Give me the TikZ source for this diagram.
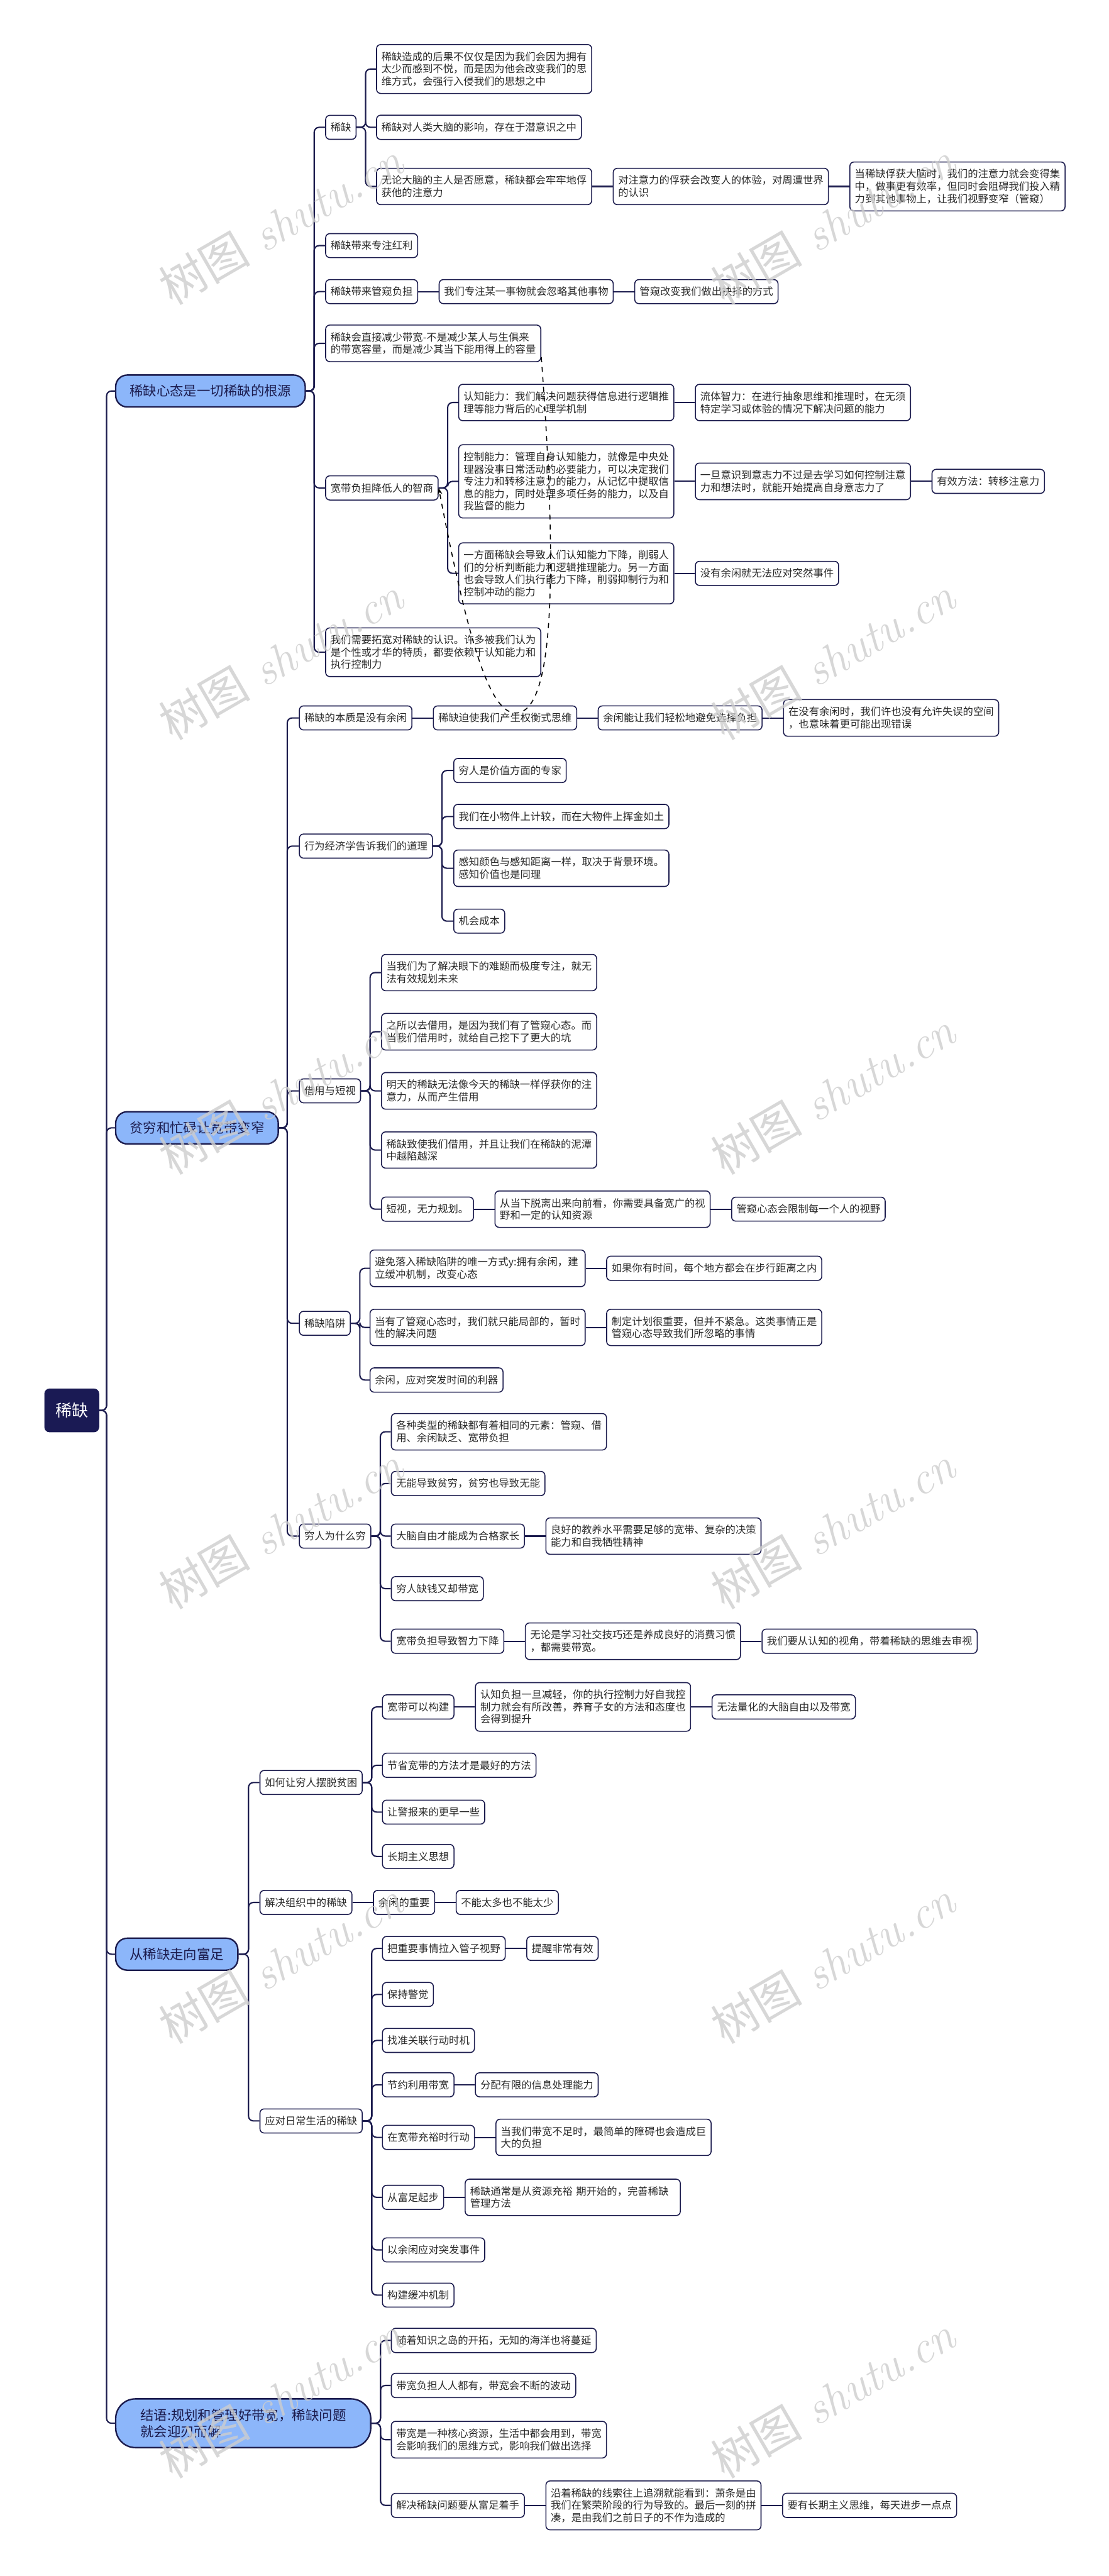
\documentclass[tikz,border=0pt]{standalone}
\usepackage{fontspec}
\newfontfamily\cjk{Noto Sans CJK SC}
\usetikzlibrary{arrows.meta,positioning}
\definecolor{linec}{RGB}{28,28,78}
\definecolor{rootc}{RGB}{26,26,84}
\definecolor{topicc}{RGB}{140,182,250}
\definecolor{textc}{RGB}{40,40,40}
\definecolor{wmarkc}{RGB}{205,205,205}

\begin{document}
\begin{tikzpicture}[x=1pt,y=-1pt,>=Stealth,
  rootbox/.style={anchor=west,draw=rootc,fill=rootc,text=white,rounded corners=3pt,
    font=\cjk\fontsize{10}{12}\selectfont,inner xsep=6.5pt,inner ysep=8.5pt},
  topic/.style={anchor=west,draw=linec,line width=0.9pt,fill=topicc,text=linec,
    rounded corners=7pt,font=\cjk\fontsize{8.2}{10.2}\selectfont,inner xsep=8.5pt,inner ysep=5.9pt},
  leaf/.style={anchor=west,draw=linec,line width=0.6pt,fill=white,text=textc,rounded corners=2.5pt,
    font=\cjk\fontsize{6.25}{7.5}\selectfont,inner xsep=3pt,inner ysep=4.4pt,align=left},
  wrap/.style={leaf,text width=125pt},
  link/.style={draw=linec,line width=0.8pt,rounded corners=3pt},
  wmark/.style={text=wmarkc,text opacity=0.8,rotate=30,font=\fontsize{28}{30}\selectfont}]
% 画布
\fill[white] (0,0) rectangle (675,1568);
\useasboundingbox (0,0) rectangle (675,1568);
% 根节点与一级主题
\node[rootbox] (R) at (27,858.5) {稀缺};
\node[topic] (A) at (70,238) {稀缺心态是一切稀缺的根源};
\node[topic] (B) at (70,686.5) {贫穷和忙碌让宽带变窄};
\node[topic] (C) at (70,1189.5) {从稀缺走向富足};
\node[topic,align=left,inner xsep=15pt,rounded corners=12pt] (D) at (70,1475)
  {结语:规划和管理好带宽，稀缺问题\\就会迎刃而解};
% 稀缺心态
\node[leaf] (A1) at (198,77.5) {稀缺};
\node[wrap] (A11) at (229,42) {稀缺造成的后果不仅仅是因为我们会因为拥有\\太少而感到不悦，而是因为他会改变我们的思\\维方式，会强行入侵我们的思想之中};
\node[leaf] (A12) at (229,77.5) {稀缺对人类大脑的影响，存在于潜意识之中};
\node[wrap] (A13) at (229,113.5) {无论大脑的主人是否愿意，稀缺都会牢牢地俘\\获他的注意力};
\node[wrap,right=12.5pt of A13] (A131) {对注意力的俘获会改变人的体验，对周遭世界\\的认识};
\node[wrap,right=12.5pt of A131] (A1311) {当稀缺俘获大脑时，我们的注意力就会变得集\\中，做事更有效率，但同时会阻碍我们投入精\\力到其他事物上，让我们视野变窄（管窥）};
\node[leaf] (A2) at (198,149.5) {稀缺带来专注红利};
\node[leaf] (A3) at (198,177.5) {稀缺带来管窥负担};
\node[leaf,right=12.5pt of A3] (A31) {我们专注某一事物就会忽略其他事物};
\node[leaf,right=12.5pt of A31] (A311) {管窥改变我们做出抉择的方式};
\node[wrap] (A4) at (198,209) {稀缺会直接减少带宽-不是减少某人与生俱来\\的带宽容量，而是减少其当下能用得上的容量};
\node[leaf] (A5) at (198,297) {宽带负担降低人的智商};
\node[wrap] (A51) at (279,245) {认知能力：我们解决问题获得信息进行逻辑推\\理等能力背后的心理学机制};
\node[wrap,right=12.5pt of A51] (A511) {流体智力：在进行抽象思维和推理时，在无须\\特定学习或体验的情况下解决问题的能力};
\node[wrap] (A52) at (279,293) {控制能力：管理自身认知能力，就像是中央处\\理器没事日常活动的必要能力，可以决定我们\\专注力和转移注意力的能力，从记忆中提取信\\息的能力，同时处理多项任务的能力，以及自\\我监督的能力};
\node[wrap,right=12.5pt of A52] (A521) {一旦意识到意志力不过是去学习如何控制注意\\力和想法时，就能开始提高自身意志力了};
\node[leaf,right=12.5pt of A521] (A5211) {有效方法：转移注意力};
\node[wrap] (A53) at (279,349) {一方面稀缺会导致人们认知能力下降，削弱人\\们的分析判断能力和逻辑推理能力。另一方面\\也会导致人们执行能力下降，削弱抑制行为和\\控制冲动的能力};
\node[leaf,right=12.5pt of A53] (A531) {没有余闲就无法应对突然事件};
\node[wrap] (A6) at (198,397) {我们需要拓宽对稀缺的认识。许多被我们认为\\是个性或才华的特质，都要依赖于认知能力和\\执行控制力};
% 贫穷和忙碌
\node[leaf] (B1) at (182,437) {稀缺的本质是没有余闲};
\node[leaf,right=12.5pt of B1] (B11) {稀缺迫使我们产生权衡式思维};
\node[leaf,right=12.5pt of B11] (B111) {余闲能让我们轻松地避免选择负担};
\node[wrap,right=12.5pt of B111] (B1111) {在没有余闲时，我们许也没有允许失误的空间\\，也意味着更可能出现错误};
\node[leaf] (B2) at (182,515) {行为经济学告诉我们的道理};
\node[leaf] (B21) at (276,469) {穷人是价值方面的专家};
\node[leaf] (B22) at (276,497) {我们在小物件上计较，而在大物件上挥金如土};
\node[wrap] (B23) at (276,528.5) {感知颜色与感知距离一样，取决于背景环境。\\感知价值也是同理};
\node[leaf] (B24) at (276,560.7) {机会成本};
\node[leaf] (B3) at (182,664) {借用与短视};
\node[wrap] (B31) at (232,592) {当我们为了解决眼下的难题而极度专注，就无\\法有效规划未来};
\node[wrap] (B32) at (232,628) {之所以去借用，是因为我们有了管窥心态。而\\当我们借用时，就给自己挖下了更大的坑};
\node[wrap] (B33) at (232,664) {明天的稀缺无法像今天的稀缺一样俘获你的注\\意力，从而产生借用};
\node[wrap] (B34) at (232,700) {稀缺致使我们借用，并且让我们在稀缺的泥潭\\中越陷越深};
\node[leaf] (B35) at (232,736) {短视，无力规划。};
\node[wrap,right=12.5pt of B35] (B351) {从当下脱离出来向前看，你需要具备宽广的视\\野和一定的认知资源};
\node[leaf,right=12.5pt of B351] (B3511) {管窥心态会限制每一个人的视野};
\node[leaf] (B4) at (182,805.5) {稀缺陷阱};
\node[wrap] (B41) at (225,772) {避免落入稀缺陷阱的唯一方式y:拥有余闲，建\\立缓冲机制，改变心态};
\node[leaf,right=12.5pt of B41] (B411) {如果你有时间，每个地方都会在步行距离之内};
\node[wrap] (B42) at (225,808) {当有了管窥心态时，我们就只能局部的，暂时\\性的解决问题};
\node[wrap,right=12.5pt of B42] (B421) {制定计划很重要，但并不紧急。这类事情正是\\管窥心态导致我们所忽略的事情};
\node[leaf] (B43) at (225,840) {余闲，应对突发时间的利器};
\node[leaf] (B5) at (182,935) {穷人为什么穷};
\node[wrap] (B51) at (238,871.5) {各种类型的稀缺都有着相同的元素：管窥、借\\用、余闲缺乏、宽带负担};
\node[leaf] (B52) at (238,903) {无能导致贫穷，贫穷也导致无能};
\node[leaf] (B53) at (238,935) {大脑自由才能成为合格家长};
\node[wrap,right=12.5pt of B53] (B531) {良好的教养水平需要足够的宽带、复杂的决策\\能力和自我牺牲精神};
\node[leaf] (B54) at (238,967) {穷人缺钱又却带宽};
\node[leaf] (B55) at (238,999) {宽带负担导致智力下降};
\node[wrap,right=12.5pt of B55] (B551) {无论是学习社交技巧还是养成良好的消费习惯\\，都需要带宽。};
\node[leaf,right=12.5pt of B551] (B5511) {我们要从认知的视角，带着稀缺的思维去审视};
% 从稀缺走向富足
\node[leaf] (C1) at (158,1085) {如何让穷人摆脱贫困};
\node[leaf] (C11) at (232.6,1039) {宽带可以构建};
\node[wrap,right=12.5pt of C11] (C111) {认知负担一旦减轻，你的执行控制力好自我控\\制力就会有所改善，养育子女的方法和态度也\\会得到提升};
\node[leaf,right=12.5pt of C111] (C1111) {无法量化的大脑自由以及带宽};
\node[leaf] (C12) at (232.6,1074.5) {节省宽带的方法才是最好的方法};
\node[leaf] (C13) at (232.6,1103) {让警报来的更早一些};
\node[leaf] (C14) at (232.6,1130) {长期主义思想};
\node[leaf] (C2) at (158,1158) {解决组织中的稀缺};
\node[leaf,right=12.5pt of C2] (C21) {余闲的重要};
\node[leaf,right=12.5pt of C21] (C211) {不能太多也不能太少};
\node[leaf] (C3) at (158,1291) {应对日常生活的稀缺};
\node[leaf] (C31) at (232.6,1186) {把重要事情拉入管子视野};
\node[leaf,right=12.5pt of C31] (C311) {提醒非常有效};
\node[leaf] (C32) at (232.6,1214) {保持警觉};
\node[leaf] (C33) at (232.6,1242) {找准关联行动时机};
\node[leaf] (C34) at (232.6,1269) {节约利用带宽};
\node[leaf,right=12.5pt of C34] (C341) {分配有限的信息处理能力};
\node[leaf] (C35) at (232.6,1301) {在宽带充裕时行动};
\node[wrap,right=12.5pt of C35] (C351) {当我们带宽不足时，最简单的障碍也会造成巨\\大的负担};
\node[leaf] (C36) at (232.6,1337.5) {从富足起步};
\node[wrap,right=12.5pt of C36] (C361) {稀缺通常是从资源充裕 期开始的，完善稀缺\\管理方法};
\node[leaf] (C37) at (232.6,1369.5) {以余闲应对突发事件};
\node[leaf] (C38) at (232.6,1397) {构建缓冲机制};
% 结语
\node[leaf] (D1) at (238,1424.6) {随着知识之岛的开拓，无知的海洋也将蔓延};
\node[leaf] (D2) at (238,1452) {带宽负担人人都有，带宽会不断的波动};
\node[wrap] (D3) at (238,1485) {带宽是一种核心资源，生活中都会用到，带宽\\会影响我们的思维方式，影响我们做出选择};
\node[leaf] (D4) at (238,1525) {解决稀缺问题要从富足着手};
\node[wrap,right=12.5pt of D4] (D41) {沿着稀缺的线索往上追溯就能看到：萧条是由\\我们在繁荣阶段的行为导致的。最后一刻的拼\\凑，是由我们之前日子的不作为造成的};
\node[leaf,right=12.5pt of D41] (D411) {要有长期主义思维，每天进步一点点};
% 树状连线
\foreach \c in {A,B,C,D} \draw[link] (R.east) -- ++(4.5,0) |- (\c.west);
\foreach \c in {A1,A2,A3,A4,A5,A6} \draw[link] (A.east) -- ++(5,0) |- (\c.west);
\foreach \c in {A11,A12,A13} \draw[link] (A1.east) -- ++(5.5,0) |- (\c.west);
\foreach \c in {A51,A52,A53} \draw[link] (A5.east) -- ++(5.5,0) |- (\c.west);
\foreach \c in {B1,B2,B3,B4,B5} \draw[link] (B.east) -- ++(5,0) |- (\c.west);
\foreach \c in {B21,B22,B23,B24} \draw[link] (B2.east) -- ++(5.5,0) |- (\c.west);
\foreach \c in {B31,B32,B33,B34,B35} \draw[link] (B3.east) -- ++(5.5,0) |- (\c.west);
\foreach \c in {B41,B42,B43} \draw[link] (B4.east) -- ++(5.5,0) |- (\c.west);
\foreach \c in {B51,B52,B53,B54,B55} \draw[link] (B5.east) -- ++(5.5,0) |- (\c.west);
\foreach \c in {C1,C2,C3} \draw[link] (C.east) -- ++(6,0) |- (\c.west);
\foreach \c in {C11,C12,C13,C14} \draw[link] (C1.east) -- ++(5.5,0) |- (\c.west);
\foreach \c in {C31,C32,C33,C34,C35,C36,C37,C38} \draw[link] (C3.east) -- ++(5.5,0) |- (\c.west);
\foreach \c in {D1,D2,D3,D4} \draw[link] (D.east) -- ++(5.5,0) |- (\c.west);
% 横向链
\foreach \a/\b in {A13/A131,A131/A1311,A3/A31,A31/A311,A51/A511,A52/A521,A521/A5211,A53/A531,
  B1/B11,B11/B111,B111/B1111,B35/B351,B351/B3511,B41/B411,B42/B421,B53/B531,B55/B551,B551/B5511,
  C11/C111,C111/C1111,C2/C21,C21/C211,C31/C311,C34/C341,C35/C351,C36/C361,D4/D41,D41/D411}
  \draw[link] (\a.east) -- (\b.west);
% 虚线关联
\draw[dashed,line width=0.6pt,-{Stealth[length=4pt,width=3pt]}] ([yshift=3pt]A4.south east)
  .. controls (338,330) and (340,434) .. (314,434)
  .. controls (298,434) and (285,390) .. (A5.east);
% 水印
\foreach \r in {0,...,5}{
  \node[wmark] at (171,{136+264.6*\r}) {{\cjk 树图} \itshape shutu.cn};
  \node[wmark] at (507,{136+264.6*\r}) {{\cjk 树图} \itshape shutu.cn};
}
\end{tikzpicture}
\end{document}
